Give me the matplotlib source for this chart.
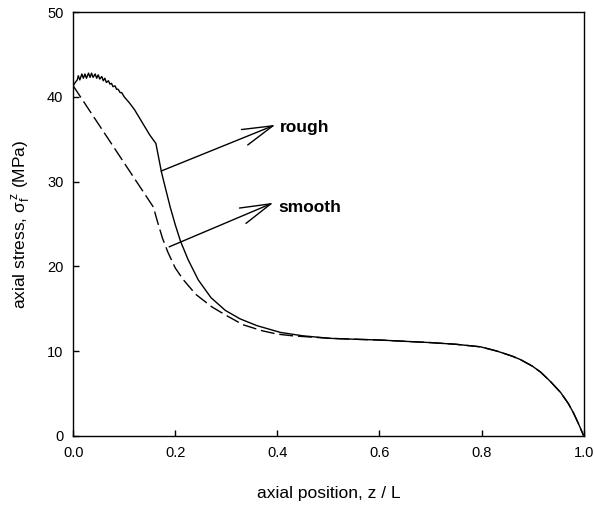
import matplotlib
matplotlib.use("Agg")
import matplotlib.pyplot as plt

plt.rcParams['font.family'] = ['Liberation Sans', 'DejaVu Sans']
plt.rcParams['mathtext.fontset'] = 'custom'
plt.rcParams['mathtext.rm'] = 'Liberation Sans'
plt.rcParams['mathtext.it'] = 'Liberation Sans'

# rough interface (solid)
z_rough = [0.000, 0.004, 0.008, 0.010, 0.013, 0.017, 0.020, 0.023, 0.026, 0.030,
           0.033, 0.036, 0.039, 0.043, 0.046, 0.049, 0.052, 0.056, 0.059, 0.062,
           0.065, 0.069, 0.072, 0.075, 0.078, 0.082, 0.085, 0.088, 0.092, 0.095,
           0.100, 0.110, 0.120, 0.130, 0.140, 0.150, 0.162, 0.173, 0.180, 0.190,
           0.200, 0.210, 0.225, 0.245, 0.270, 0.298, 0.327, 0.360, 0.406, 0.450,
           0.504, 0.550, 0.602, 0.650, 0.700, 0.750, 0.798, 0.830, 0.860, 0.876,
           0.900, 0.916, 0.935, 0.955, 0.970, 0.980, 0.990, 1.000]
s_rough = [41.3, 41.7, 42.0, 42.5, 42.0, 42.7, 42.2, 42.7, 42.2, 42.8,
           42.3, 42.8, 42.3, 42.7, 42.2, 42.6, 42.1, 42.4, 41.9, 42.2,
           41.7, 41.9, 41.5, 41.6, 41.2, 41.3, 40.9, 40.9, 40.5, 40.5,
           40.0, 39.3, 38.5, 37.5, 36.5, 35.5, 34.5, 31.1, 29.4, 27.0,
           24.9, 23.0, 20.8, 18.4, 16.3, 14.8, 13.8, 13.0, 12.2, 11.8,
           11.5, 11.4, 11.3, 11.15, 11.0, 10.8, 10.5, 10.0, 9.4, 9.0,
           8.2, 7.5, 6.4, 5.1, 3.8, 2.7, 1.4, 0.0]

# smooth interface (dashed)
z_smooth = [0.000, 0.157, 0.165, 0.175, 0.186, 0.200, 0.216, 0.240, 0.272, 0.300,
            0.333, 0.370, 0.400, 0.430, 0.504, 0.550, 0.602, 0.650, 0.700, 0.750,
            0.798, 0.830, 0.860, 0.876, 0.900, 0.916, 0.935, 0.955, 0.970, 0.980,
            0.990, 1.000]
s_smooth = [41.3, 27.0, 25.3, 23.3, 21.6, 19.8, 18.4, 16.7, 15.2, 14.2,
            13.1, 12.4, 12.0, 11.8, 11.5, 11.4, 11.3, 11.15, 11.0, 10.8,
            10.5, 10.0, 9.4, 9.0, 8.2, 7.5, 6.4, 5.1, 3.8, 2.7,
            1.4, 0.0]

xticks = [0.0, 0.2, 0.4, 0.6, 0.8, 1.0]
yticks = [0, 10, 20, 30, 40, 50]

fig = plt.figure(figsize=(5.95, 5.05), dpi=100)
ax = fig.add_axes([0.123, 0.137, 0.858, 0.839])

ax.plot(z_rough, s_rough, color='black', lw=1.0)
ax.plot(z_smooth, s_smooth, color='black', lw=1.0, linestyle=(0, (10, 3.5)))

arrow = dict(arrowstyle='->,head_length=2.2,head_width=0.6', color='black',
             lw=1.0, shrinkA=0, shrinkB=0)
ax.annotate('', xy=(0.396, 36.7), xytext=(0.1725, 31.25), arrowprops=arrow)
ax.annotate('', xy=(0.392, 27.5), xytext=(0.188, 22.3), arrowprops=arrow)
ax.text(0.405, 36.4, 'rough', fontsize=12.5, fontweight='bold', va='center', ha='left')
ax.text(0.402, 26.9, 'smooth', fontsize=12.5, fontweight='bold', va='center', ha='left')

ax.set_xlim(0, 1)
ax.set_ylim(0, 50)
ax.set_xticks(xticks)
ax.set_yticks(yticks)
ax.set_xticklabels(['%.1f' % v for v in xticks])
ax.tick_params(direction='in', length=4, width=1, labelsize=10.5, pad=7)
for sp in ax.spines.values():
    sp.set_linewidth(1.0)

ax.set_xlabel('axial position, z / L', fontsize=12.5, labelpad=19)
ax.set_ylabel(r'axial stress, $\sigma_{\rm f}^{\,\rm z}$ (MPa)', fontsize=12.5, labelpad=10)

fig.savefig('out.png', dpi=100)
